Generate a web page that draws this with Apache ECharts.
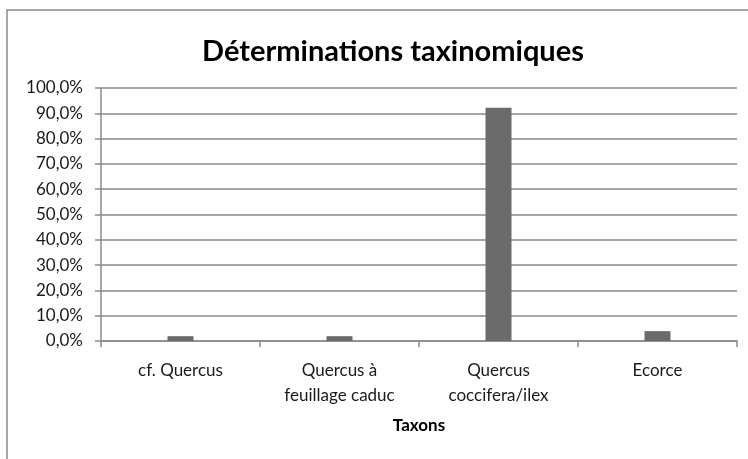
<!DOCTYPE html>
<html>
<head>
<meta charset="utf-8">
<script src="https://cdn.jsdelivr.net/npm/echarts@6/dist/echarts.min.js"></script>
<style>
	html, body { margin: 0; padding: 0; background: #fff; }
	#main { width: 748px; height: 459px; }
</style>
</head>
<body>
<div id="main"></div>
<script>
// données
const categories = ['cf. Quercus', 'Quercus à\nfeuillage caduc', 'Quercus\ncoccifera/ilex', 'Ecorce']
const values = [1.9, 1.9, 92.2, 3.9]
const yTicks = { min: 0, max: 100, interval: 10 }

const chartDom = document.getElementById('main')
const myChart = echarts.init(chartDom)
const font = 'Lato, "Open Sans", sans-serif'

const option = {
	animation: false,
	backgroundColor: '#fff',
	title: {
		text: 'Déterminations taxinomiques',
		left: 388,
		textAlign: 'center',
		top: 32,
		textStyle: { fontFamily: font, fontSize: 29, fontWeight: 'bold', color: '#000' }
	},
	// cadre du graphique
	graphic: [{
		type: 'rect',
		shape: { x: 7, y: 10, width: 800, height: 500 },
		style: { fill: 'none', stroke: '#8a8a8a', lineWidth: 1.5 },
		silent: true
	}],
	grid: { left: 101, right: 11, top: 88, bottom: 118 },
	xAxis: {
		type: 'category',
		data: categories,
		name: 'Taxons',
		nameLocation: 'middle',
		nameGap: 76,
		nameTextStyle: { fontFamily: font, fontSize: 17, fontWeight: 'bold', color: '#000' },
		axisLine: { lineStyle: { color: '#8a8a8a', width: 1.5 } },
		axisTick: { show: true, length: 6, lineStyle: { color: '#8a8a8a', width: 1.5 } },
		axisLabel: { fontFamily: font, fontSize: 17, color: '#1a1a1a', margin: 17, lineHeight: 25 }
	},
	yAxis: {
		type: 'value',
		min: yTicks.min,
		max: yTicks.max,
		interval: yTicks.interval,
		axisLine: { show: true, lineStyle: { color: '#8a8a8a', width: 1.5 } },
		axisTick: { show: true, length: 6, lineStyle: { color: '#8a8a8a', width: 1.5 } },
		splitLine: { lineStyle: { color: '#8a8a8a', width: 1.5 } },
		axisLabel: {
			fontFamily: font, fontSize: 17, color: '#1a1a1a', margin: 18,
			formatter: v => v.toFixed(1).replace('.', ',') + '%'
		}
	},
	series: [{
		type: 'bar',
		data: values,
		barWidth: 26,
		itemStyle: { color: '#6b6b6b' }
	}]
}

option && myChart.setOption(option)
</script>
</body>
</html>
